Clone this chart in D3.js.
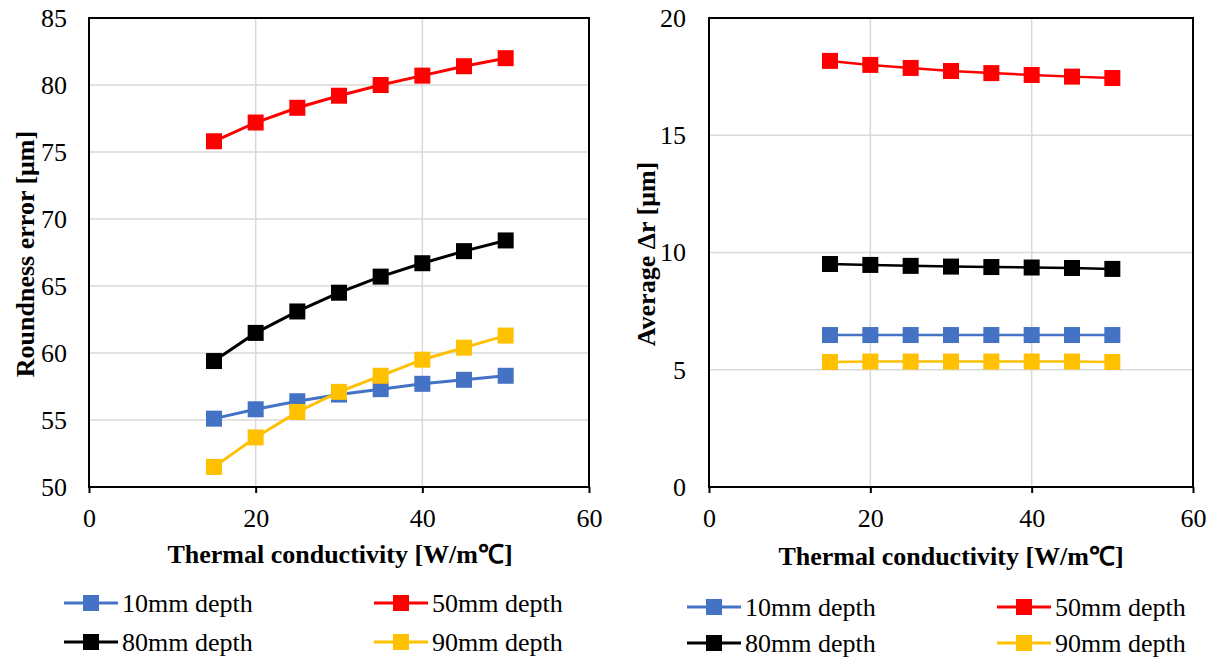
<!DOCTYPE html>
<html><head><meta charset="utf-8">
<script src="https://cdn.jsdelivr.net/npm/d3@7"></script>
<style>body{margin:0;background:#fff}svg{display:block}</style>
</head><body><svg id="c" width="1220" height="659"></svg>
<script>
const conductivity = [15, 20, 25, 30, 35, 40, 45, 50];
const seriesNames = ["10mm depth", "50mm depth", "80mm depth", "90mm depth"];
const seriesColors = ["#4472C4", "#FF0000", "#000000", "#FFC000"];
// Left panel: Roundness error [μm]
const round10 = [55.1, 55.8, 56.4, 56.9, 57.3, 57.7, 58.0, 58.3];
const round50 = [75.8, 77.2, 78.3, 79.2, 80.0, 80.7, 81.4, 82.0];
const round80 = [59.4, 61.5, 63.1, 64.5, 65.7, 66.7, 67.6, 68.4];
const round90 = [51.5, 53.7, 55.6, 57.1, 58.3, 59.5, 60.4, 61.3];
// Right panel: Average Δr [μm]
const dr10 = [6.48, 6.48, 6.48, 6.48, 6.48, 6.48, 6.48, 6.48];
const dr50 = [18.17, 18.0, 17.87, 17.74, 17.65, 17.57, 17.5, 17.44];
const dr80 = [9.51, 9.47, 9.43, 9.40, 9.38, 9.36, 9.34, 9.30];
const dr90 = [5.33, 5.35, 5.35, 5.35, 5.35, 5.35, 5.35, 5.33];
const xTicks = [0, 20, 40, 60];
const leftYTicks = [50, 55, 60, 65, 70, 75, 80, 85];
const rightYTicks = [0, 5, 10, 15, 20];
const xTitle = "Thermal conductivity [W/m\u2103]";

const FONT = '"Liberation Serif"';
const svg = d3.select("#c");

function panel(cfg) {
  const x = d3.scaleLinear().domain([0, 60]).range([cfg.x0, cfg.x1]);
  const y = d3.scaleLinear().domain(cfg.yDomain).range([487, 18]);
  const g = svg.append("g");
  // grid
  g.append("g").selectAll("line").data(cfg.yTicks).join("line")
    .attr("x1", cfg.x0).attr("x2", cfg.x1).attr("y1", d => y(d)).attr("y2", d => y(d))
    .attr("stroke", "#d9d9d9").attr("stroke-width", 1.5);
  g.append("g").selectAll("line").data(xTicks).join("line")
    .attr("x1", d => x(d)).attr("x2", d => x(d)).attr("y1", 18).attr("y2", 487)
    .attr("stroke", "#d9d9d9").attr("stroke-width", 1.5);
  // axes
  const xa = g.append("g").attr("transform", "translate(0,487)")
    .call(d3.axisBottom(x).tickValues(xTicks).tickSize(6).tickPadding(16));
  xa.attr("font-family", null).attr("font-size", null);
  xa.select(".domain").remove();
  xa.selectAll("line").attr("stroke", "#000").attr("stroke-width", 2);
  xa.selectAll("text").style("font-size", "26px").style("font-family", FONT).attr("fill", "#000");
  const ya = g.append("g").attr("transform", `translate(${cfg.x0},0)`)
    .call(d3.axisLeft(y).tickValues(cfg.yTicks).tickSize(0).tickPadding(cfg.yPad));
  ya.attr("font-family", null).attr("font-size", null);
  ya.select(".domain").remove();
  ya.selectAll("text").style("font-size", "26px").style("font-family", FONT).attr("fill", "#000");
  // frame
  g.append("rect").attr("x", cfg.x0).attr("y", 18).attr("width", cfg.x1 - cfg.x0).attr("height", 469)
    .attr("fill", "none").attr("stroke", "#000").attr("stroke-width", 2);
  // series
  const line = d3.line().x((d, i) => x(conductivity[i])).y(d => y(d));
  cfg.data.forEach((vals, k) => {
    g.append("path").attr("d", line(vals)).attr("fill", "none")
      .attr("stroke", seriesColors[k]).attr("stroke-width", cfg.lw);
    g.append("g").selectAll("rect").data(vals).join("rect")
      .attr("x", (d, i) => x(conductivity[i]) - 8).attr("y", d => y(d) - 8)
      .attr("width", 16).attr("height", 16).attr("fill", seriesColors[k]);
  });
  // titles
  g.append("text").attr("x", cfg.xtX).attr("y", cfg.xtY)
    .attr("text-anchor", "middle").style("font-family", FONT).style("font-weight", "bold")
    .style("font-size", "26px").text(xTitle);
  g.append("text").attr("transform", `translate(${cfg.ytX},254) rotate(-90)`)
    .attr("text-anchor", "middle").style("font-family", FONT).style("font-weight", "bold")
    .style("font-size", "26px").text(cfg.yTitle);
  // legend
  const lg = g.append("g");
  cfg.legend.forEach((p, k) => {
    const e = lg.append("g").attr("transform", `translate(${p[0]},${p[1]})`);
    e.append("line").attr("x1", 0).attr("x2", 54).attr("y1", 0).attr("y2", 0)
      .attr("stroke", seriesColors[k]).attr("stroke-width", 3);
    e.append("rect").attr("x", 19).attr("y", -8).attr("width", 16).attr("height", 16).attr("fill", seriesColors[k]);
    e.append("text").attr("x", 58).attr("y", 9).style("font-family", FONT).style("font-size", "26px").text(seriesNames[k]);
  });
}

panel({x0: 89, x1: 589, yDomain: [50, 85], yTicks: leftYTicks, yTitle: "Roundness error [\u03bcm]", yPad: 22,
  data: [round10, round50, round80, round90], lw: 3, xtX: 340, xtY: 563, ytX: 34,
  legend: [[64, 603], [374, 603], [64, 642], [374, 642]]});
panel({x0: 709, x1: 1193, yDomain: [0, 20], yTicks: rightYTicks, yTitle: "Average \u0394r [\u03bcm]", yPad: 23,
  data: [dr10, dr50, dr80, dr90], lw: 2.5, xtX: 951, xtY: 565, ytX: 655,
  legend: [[687, 607], [997, 607], [687, 643], [997, 643]]});
</script></body></html>
